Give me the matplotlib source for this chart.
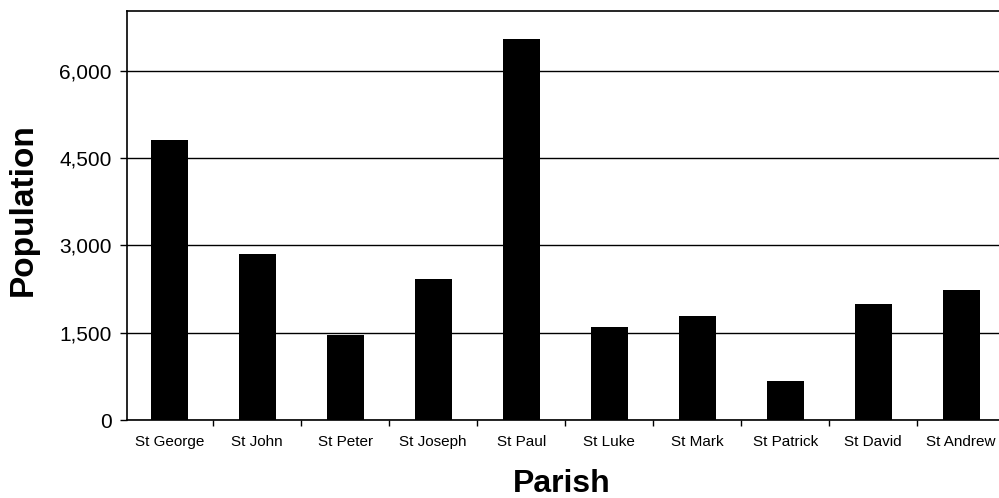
import matplotlib
matplotlib.use("Agg")
import matplotlib.pyplot as plt
import numpy as np
from matplotlib.ticker import FuncFormatter, FixedLocator

parishes = ["St George", "St John", "St Peter", "St Joseph", "St Paul",
            "St Luke", "St Mark", "St Patrick", "St David", "St Andrew"]
population = [4820, 2850, 1465, 2420, 6550, 1600, 1790, 670, 1995, 2235]
yticks = [0, 1500, 3000, 4500, 6000]

plt.rcParams['font.family'] = ['Liberation Sans', 'DejaVu Sans']

fig = plt.figure(figsize=(9.99, 4.98), dpi=100)
ax = fig.add_axes([127/999, 78/498, 1 - 127/999, (420-11)/498])

x = np.arange(len(parishes))
ax.bar(x, population, width=0.42, color='black', zorder=3)

ax.set_ylim(0, 7030)
ax.set_xlim(-0.48, 9.43)
ax.set_yticks(yticks)
ax.yaxis.set_major_formatter(FuncFormatter(lambda v, p: f"{int(v):,}"))
ax.grid(axis='y', color='black', linewidth=1.0, zorder=1)

ax.set_xticks(x)
ax.set_xticklabels(parishes, fontsize=11)
ax.xaxis.set_minor_locator(FixedLocator(x[:-1] + 0.5))
ax.tick_params(axis='x', which='major', length=0, pad=11)
ax.tick_params(axis='x', which='minor', length=4, width=1, direction='out')
ax.tick_params(axis='y', length=5, width=1, direction='out', labelsize=15, pad=6)

ax.spines['right'].set_visible(False)
for s in ['left', 'top', 'bottom']:
    ax.spines[s].set_linewidth(1.2)

ax.set_ylabel("Population", fontsize=24, fontweight='bold')
ax.yaxis.set_label_coords(-0.101, 0.514)
ax.set_xlabel("Parish", fontsize=23, fontweight='bold')
ax.xaxis.set_label_coords(0.498, -0.12)

fig.savefig("out.png", dpi=100)
